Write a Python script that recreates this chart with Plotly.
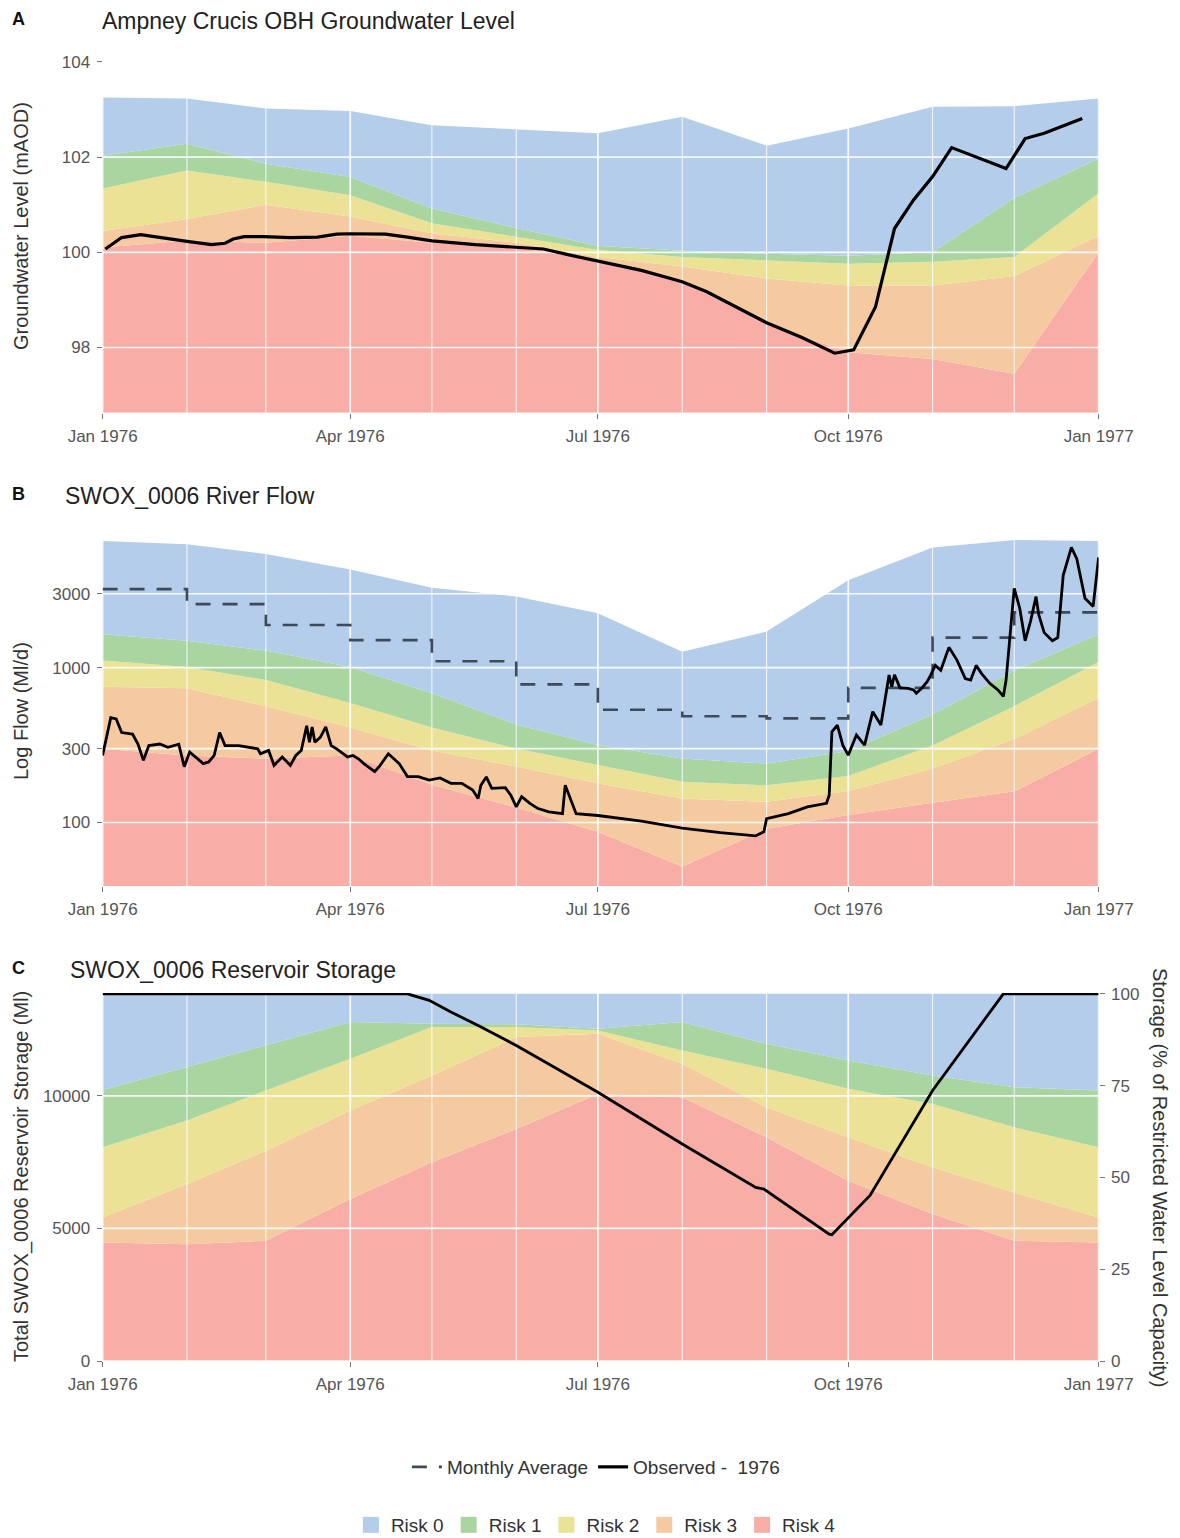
import pandas as pd
import plotly.graph_objects as go

FONT = "Liberation Sans, Arial, sans-serif"
W, H = 1180, 1538

# ---------------- shared ----------------
months = ["1976-01-01", "1976-02-01", "1976-03-01", "1976-04-01", "1976-05-01",
          "1976-06-01", "1976-07-01", "1976-08-01", "1976-09-01", "1976-10-01",
          "1976-11-01", "1976-12-01", "1977-01-01"]
x_tickvals = ["1976-01-01", "1976-04-01", "1976-07-01", "1976-10-01", "1977-01-01"]
x_ticktext = ["Jan 1976", "Apr 1976", "Jul 1976", "Oct 1976", "Jan 1977"]
risk_names = ["Risk 0", "Risk 1", "Risk 2", "Risk 3", "Risk 4"]
risk_colors = ["#b3cdea", "#a9d5a1", "#ece295", "#f6caa1", "#f8aea6"]

# ---------------- Panel A: groundwater level (mAOD), band upper limits ----------------
gw_risk4_top = [100.1, 100.25, 100.2, 100.35, 100.2, 100.1, 99.83, 99.38, 98.5, 97.9, 97.76, 97.45, 100.0]
gw_risk3_top = [100.45, 100.7, 101.0, 100.75, 100.4, 100.2, 99.9, 99.7, 99.45, 99.3, 99.3, 99.5, 100.35]
gw_risk2_top = [101.34, 101.72, 101.48, 101.2, 100.61, 100.33, 100.05, 99.9, 99.83, 99.76, 99.8, 99.9, 101.24]
gw_risk1_top = [102.03, 102.28, 101.86, 101.58, 100.92, 100.51, 100.14, 100.03, 99.97, 99.93, 100.0, 101.14, 101.97]
gw_risk0_top = [103.25, 103.23, 103.02, 102.97, 102.67, 102.58, 102.5, 102.85, 102.24, 102.6, 103.06, 103.07, 103.23]
gw_obs_day = [1, 7, 14, 22, 31, 40, 45, 48, 52, 59, 69, 79, 86, 91, 104, 112, 121, 137, 152, 162,
              171, 182, 198, 213, 222, 244, 257, 269, 276, 284, 289, 291, 298, 305, 312, 332, 339, 346, 360]
gw_obs = [100.07, 100.31, 100.37, 100.30, 100.23, 100.16, 100.19, 100.28, 100.33, 100.33, 100.31,
          100.32, 100.38, 100.39, 100.38, 100.32, 100.24, 100.16, 100.11, 100.07, 99.95, 99.82,
          99.62, 99.38, 99.17, 98.52, 98.21, 97.88, 97.95, 98.85, 100.0, 100.5, 101.1, 101.59,
          102.2, 101.76, 102.39, 102.5, 102.81]
gw_yticks = [98, 100, 102, 104]
gw_range = [96.63, 104.2]

# ---------------- Panel B: river flow (Ml/d), band upper limits ----------------
flow_risk4_top = [299, 271, 258, 271, 175, 125, 87, 52, 91, 112, 134, 159, 299]
flow_risk3_top = [754, 736, 563, 410, 292, 230, 179, 143, 136, 160, 223, 346, 640]
flow_risk2_top = [1112, 1009, 832, 592, 410, 300, 235, 183, 174, 200, 314, 563, 1086]
flow_risk1_top = [1643, 1490, 1288, 1009, 684, 430, 316, 259, 240, 290, 499, 960, 1643]
flow_risk0_top = [6580, 6270, 5420, 4310, 3280, 2880, 2245, 1268, 1710, 3660, 5970, 6670, 6580]
flow_monthly_avg = [3215, 2570, 1884, 1506, 1100, 780, 535, 485, 470, 740, 1563, 2275]
flow_obs_day = [0, 3, 5, 7, 11, 13, 15, 17, 21, 24, 28, 30, 32, 37, 39, 41, 43, 45, 50, 54, 57, 58,
                61, 63, 66, 69, 71, 73, 75, 76, 77, 78, 80, 82, 84, 86, 90, 92, 94, 96, 100, 102,
                105, 109, 112, 116, 120, 124, 128, 132, 136, 138, 139, 141, 143, 148, 150, 152,
                154, 157, 160, 164, 169, 170, 174, 182, 198, 213, 227, 240, 243, 244, 252, 259,
                266, 267, 268, 270, 272, 274, 277, 280, 283, 286, 288, 289, 290, 291, 293, 296,
                298, 299, 301, 303, 304, 306, 308, 311, 314, 317, 319, 321, 323, 326, 329, 331,
                332, 334, 335, 337, 339, 341, 343, 344, 346, 349, 351, 353, 356, 358, 361, 364, 366]
flow_obs = [271, 475, 466, 381, 372, 321, 252, 314, 321, 306, 320, 229, 285, 240, 246, 271, 381,
            314, 314, 306, 299, 278, 292, 234, 265, 234, 271, 292, 421, 330, 414, 330, 355, 414,
            314, 299, 265, 271, 258, 240, 213, 234, 278, 240, 198, 198, 188, 194, 179, 179, 162,
            143, 174, 197, 166, 168, 150, 126, 147, 133, 123, 117, 114, 174, 114, 111, 102, 92,
            86, 82, 87, 106, 114, 126, 133, 150, 385, 426, 316, 272, 367, 316, 520, 426, 720,
            897, 753, 900, 740, 734, 718, 684, 736, 811, 873, 1034, 962, 1352, 1114, 851, 832,
            1034, 916, 792, 718, 652, 832, 2197, 3250, 2427, 1490, 1997, 2876, 2197, 1683, 1490,
            1563, 3945, 5970, 5030, 2806, 2484, 5150]
flow_yticks = [100, 300, 1000, 3000]
flow_range_log = [1.59, 3.85]

# ---------------- Panel C: reservoir storage (Ml), band upper limits ----------------
res_capacity = 13850
res_risk4_top = [4471, 4408, 4534, 6108, 7493, 8753, 10075, 9949, 8438, 6801, 5541, 4534, 4471]
res_risk3_top = [5415, 6675, 7934, 9446, 10768, 12216, 12342, 11209, 9571, 8438, 7305, 6360, 5415]
res_risk2_top = [8060, 9068, 10200, 11398, 12594, 12594, 12468, 11712, 11020, 10264, 9697, 8816, 8060]
res_risk1_top = [10226, 11095, 11900, 12783, 12720, 12700, 12531, 12783, 11964, 11335, 10768, 10327, 10201]
res_risk0_top = [13850, 13850, 13850, 13850, 13850, 13850, 13850, 13850, 13850, 13850, 13850, 13850, 13850]
res_obs_day = [0, 112, 120, 128, 138, 152, 166, 182, 213, 240, 243, 267, 268, 274, 282, 305, 331, 366]
res_obs = [13850, 13850, 13602, 13161, 12657, 11901, 11083, 10138, 8186, 6549, 6486, 4786, 4761,
           5382, 6248, 10201, 13850, 13850]
res_yticks = [0, 5000, 10000]
res_pct_ticks = [0, 25, 50, 75, 100]
res_range = [0, 13880]

# ---------------- helpers ----------------
base = pd.Timestamp("1976-01-01")


def to_dates(days):
    return [base + pd.Timedelta(days=d) for d in days]


def py(px):
    return 1 - px / H


def px_x(px):
    return px / W


fig = go.Figure()

xdom = [px_x(102.6), px_x(1098.6)]
doms = {
    "A": [py(412.7), py(52.4)],
    "B": [py(886), py(536)],
    "C": [py(1361), py(993)],
}


def add_bands(tops, xa, ya, floor):
    fig.add_trace(go.Scatter(x=months, y=[floor] * len(months), mode="lines",
                             line=dict(width=0, color="rgba(0,0,0,0)"),
                             xaxis=xa, yaxis=ya, showlegend=False, hoverinfo="skip"))
    for i in range(4, -1, -1):
        fig.add_trace(go.Scatter(
            x=months, y=tops[i], mode="lines", fill="tonexty",
            fillcolor=risk_colors[i], line=dict(width=0, color=risk_colors[i]),
            name=risk_names[i], xaxis=xa, yaxis=ya, hoverinfo="skip", showlegend=False,
        ))


def add_grid(xa, ya, lo, hi, ytick_vals):
    minor_x = [m for m in months if m not in x_tickvals]
    for dates, wdt in ((minor_x, 1.0), (x_tickvals, 1.7)):
        xs, ys = [], []
        for d in dates:
            xs += [d, d, None]
            ys += [lo, hi, None]
        fig.add_trace(go.Scatter(x=xs, y=ys, mode="lines",
                                 line=dict(color="rgba(255,255,255,0.9)", width=wdt),
                                 xaxis=xa, yaxis=ya, showlegend=False, hoverinfo="skip"))
    xs, ys = [], []
    for v in ytick_vals:
        xs += [months[0], months[-1], None]
        ys += [v, v, None]
    fig.add_trace(go.Scatter(x=xs, y=ys, mode="lines",
                             line=dict(color="rgba(255,255,255,0.9)", width=1.7),
                             xaxis=xa, yaxis=ya, showlegend=False, hoverinfo="skip"))


# Panel A
add_bands([gw_risk0_top, gw_risk1_top, gw_risk2_top, gw_risk3_top, gw_risk4_top],
          "x", "y", gw_range[0])
add_grid("x", "y", gw_range[0], gw_range[1], gw_yticks)
fig.add_trace(go.Scatter(x=to_dates(gw_obs_day), y=gw_obs, mode="lines",
                         line=dict(color="black", width=3.2),
                         name="Observed -  1976", legend="legend", legendrank=2,
                         xaxis="x", yaxis="y", showlegend=True))

# Panel B
flow_lo, flow_hi = 10 ** flow_range_log[0], 10 ** flow_range_log[1]
add_bands([flow_risk0_top, flow_risk1_top, flow_risk2_top, flow_risk3_top, flow_risk4_top],
          "x2", "y2", flow_lo)
add_grid("x2", "y2", flow_lo, flow_hi, flow_yticks)
fig.add_trace(go.Scatter(x=months, y=flow_monthly_avg + [flow_monthly_avg[-1]], mode="lines",
                         line=dict(color="#3e4a59", width=2.6, dash="15px,12px", shape="hv"),
                         name="Monthly Average", legend="legend", legendrank=1,
                         xaxis="x2", yaxis="y2", showlegend=True))
fig.add_trace(go.Scatter(x=to_dates(flow_obs_day), y=flow_obs, mode="lines",
                         line=dict(color="black", width=2.8),
                         xaxis="x2", yaxis="y2", showlegend=False))

# Panel C
add_bands([res_risk0_top, res_risk1_top, res_risk2_top, res_risk3_top, res_risk4_top],
          "x3", "y3", res_range[0])
add_grid("x3", "y3", res_range[0], res_range[1], res_yticks)
fig.add_trace(go.Scatter(x=to_dates(res_obs_day), y=res_obs, mode="lines",
                         line=dict(color="black", width=2.8),
                         xaxis="x3", yaxis="y3", showlegend=False))
fig.add_trace(go.Scatter(x=to_dates(res_obs_day), y=[v / res_capacity * 100 for v in res_obs],
                         mode="lines", line=dict(width=0, color="rgba(0,0,0,0)"),
                         xaxis="x3", yaxis="y4", showlegend=False, hoverinfo="skip"))

# Legend-only entries for the risk categories (square swatches)
for i in range(5):
    fig.add_trace(go.Scatter(x=[None], y=[None], mode="markers", name=risk_names[i],
                             marker=dict(symbol="square", size=20, color=risk_colors[i]),
                             xaxis="x", yaxis="y", legend="legend2", legendrank=10 + i,
                             showlegend=True, hoverinfo="skip"))

tickfont = dict(family=FONT, size=17, color="#555555")
xcommon = dict(range=["1976-01-01", "1977-01-01"], tickvals=x_tickvals, ticktext=x_ticktext,
               showgrid=False, zeroline=False, showline=False, ticks="outside", ticklen=5,
               tickcolor="#777777", tickwidth=1, tickfont=tickfont, domain=xdom,
               ticklabelstandoff=3, automargin=False)
ycommon = dict(showgrid=False, zeroline=False, showline=False, ticks="outside", ticklen=5,
               tickcolor="#777777", tickwidth=1, tickfont=tickfont, ticklabelstandoff=3,
               automargin=False)

fig.update_layout(
    width=W, height=H, margin=dict(l=0, r=0, t=0, b=0, autoexpand=False),
    paper_bgcolor="white", plot_bgcolor="white",
    font=dict(family=FONT, color="#222222"),
    xaxis=dict(**xcommon, anchor="y"),
    xaxis2=dict(**xcommon, anchor="y2"),
    xaxis3=dict(**xcommon, anchor="y3"),
    yaxis=dict(**ycommon, domain=doms["A"], range=gw_range, tickvals=gw_yticks, anchor="x"),
    yaxis2=dict(**ycommon, domain=doms["B"], type="log", range=flow_range_log,
                tickvals=flow_yticks, ticktext=[str(v) for v in flow_yticks], anchor="x2"),
    yaxis3=dict(**ycommon, domain=doms["C"], range=res_range, tickvals=res_yticks,
                ticktext=[str(v) for v in res_yticks], anchor="x3"),
    yaxis4=dict(**ycommon, range=[res_range[0] / res_capacity * 100, res_range[1] / res_capacity * 100],
                tickvals=res_pct_ticks, ticktext=[str(v) for v in res_pct_ticks],
                overlaying="y3", side="right", anchor="x3"),
    legend=dict(orientation="h", x=0.505, xanchor="center", y=py(1467), yanchor="middle",
                font=dict(family=FONT, size=19, color="#333333"), bgcolor="rgba(0,0,0,0)",
                traceorder="normal", itemwidth=30),
    legend2=dict(orientation="h", x=0.505, xanchor="center", y=py(1525), yanchor="middle",
                 font=dict(family=FONT, size=19, color="#333333"), bgcolor="rgba(0,0,0,0)",
                 traceorder="normal", itemwidth=30),
    hovermode=False,
)

ann = []
for letter, title, ty, tx in (("A", "Ampney Crucis OBH Groundwater Level", 19, 100),
                              ("B", "SWOX_0006 River Flow", 494, 63),
                              ("C", "SWOX_0006 Reservoir Storage", 968, 68)):
    ann.append(dict(text="<b>%s</b>" % letter, x=px_x(18), y=py(ty), xref="paper", yref="paper",
                    xanchor="center", yanchor="middle", showarrow=False,
                    font=dict(family=FONT, size=18, color="#111111")))
    ann.append(dict(text=title, x=px_x(tx), y=py(ty + 2), xref="paper", yref="paper",
                    xanchor="left", yanchor="middle", showarrow=False,
                    font=dict(family=FONT, size=23, color="#222222")))
for text, cy in (("Groundwater Level (mAOD)", 226),
                 ("Log Flow (Ml/d)", 711),
                 ("Total SWOX_0006 Reservoir Storage (Ml)", 1177)):
    ann.append(dict(text=text, x=px_x(21), y=py(cy), xref="paper", yref="paper",
                    xanchor="center", yanchor="middle", textangle=-90, showarrow=False,
                    font=dict(family=FONT, size=20, color="#333333")))
ann.append(dict(text="Storage (% of Restricted Water Level Capacity)", x=px_x(1160), y=py(1177),
                xref="paper", yref="paper", xanchor="center", yanchor="middle", textangle=90,
                showarrow=False, font=dict(family=FONT, size=20, color="#333333")))
fig.update_layout(annotations=ann)

fig.write_html("out.html", config={"displayModeBar": False},
               post_script="document.body.style.margin='0px';")
